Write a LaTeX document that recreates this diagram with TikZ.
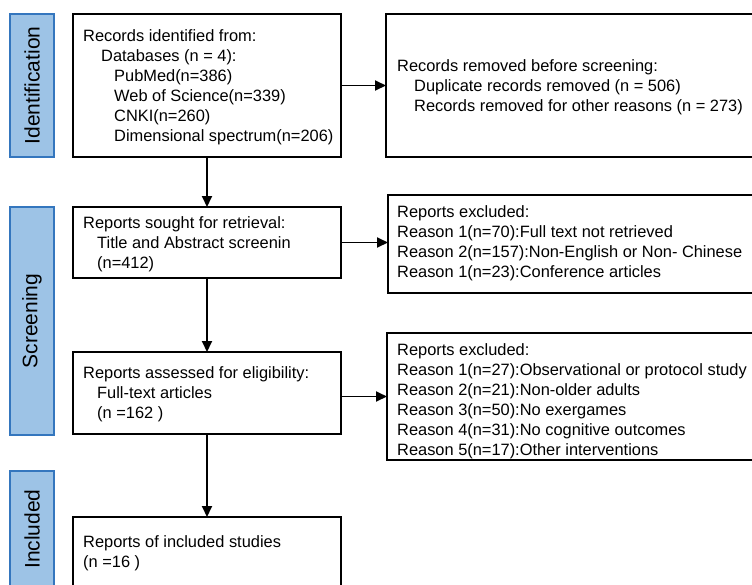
\documentclass[tikz,border=0pt]{standalone}
\usepackage{fontspec}
\setmainfont{Liberation Sans}
\usetikzlibrary{arrows.meta}
\definecolor{lblfill}{RGB}{157,195,230}
\definecolor{lbldraw}{RGB}{52,118,190}
\tikzset{
  box/.style={draw=black, line width=1.9pt, fill=white, inner sep=0pt, outer sep=0pt},
  lbl/.style={draw=lbldraw, line width=2.4pt, fill=lblfill, inner sep=0pt, outer sep=0pt},
  lbltext/.style={rotate=90, font=\fontsize{21}{24}\selectfont, inner sep=0pt},
  txt/.style={anchor=base west, inner sep=0pt, font=\fontsize{16.4}{20}\selectfont},
  arr/.style={line width=1.9pt, -{Triangle[length=11pt,width=10pt]}}
}
\begin{document}
\begin{tikzpicture}[x=1pt,y=-1pt]
\useasboundingbox (0,0) rectangle (752,584);
\clip (0,0) rectangle (752,584);
\fill[white] (0,0) rectangle (752,584);

% stage labels
\node[lbl, minimum width=44pt, minimum height=143pt] (L1) at (32,85.5) {};
\node[lbltext] (L1t) at (L1.center) {Identification};
\node[lbl, minimum width=44pt, minimum height=228pt] (L2) at (32,321) {};
\node[lbltext] (L2t) at (L2.center) {Screening};
\node[lbl, minimum width=44pt, minimum height=119pt] (L3) at (32,530.5) {};
\node[lbltext] (L3t) at (32,529) {Included};

% main column
\node[box, minimum width=268pt, minimum height=143pt] (b1) at (207,85.5) {};
\node[box, minimum width=268pt, minimum height=71pt] (b2) at (207,242.5) {};
\node[box, minimum width=268pt, minimum height=82pt] (b3) at (207,393) {};
\node[box, minimum width=268pt, minimum height=73pt] (b4) at (207,553.5) {};

% right column
\node[box, minimum width=374pt, minimum height=143pt] (r1) at (573,85.5) {};
\node[box, minimum width=372pt, minimum height=98pt] (r2) at (574,244) {};
\node[box, minimum width=373pt, minimum height=127pt] (r3) at (573.5,396.5) {};

% connectors
\draw[arr] (b1) -- (b2);
\draw[arr] (b2) -- (b3);
\draw[arr] (b3) -- (b4);
\draw[arr] (b1.east) -- (b1.east -| r1.west);
\draw[arr] (b2.east) -- (b2.east -| r2.west);
\draw[arr] (r3.west -| b3.east) -- (r3.west);

% texts box 1
\node[txt] (t11) at (83,41) {Records identified from:};
\node[txt] (t12) at (101,61) {Databases (n = 4):};
\node[txt] (t13) at (114,81.3) {PubMed(n=386)};
\node[txt] (t14) at (114,101.5) {Web of Science(n=339)};
\node[txt] (t15) at (114,121.6) {CNKI(n=260)};
\node[txt] (t16) at (114,141.7) {Dimensional spectrum(n=206)};

% texts right 1
\node[txt] (s11) at (397,71.7) {Records removed before screening:};
\node[txt] (s12) at (414,91.7) {Duplicate records removed (n = 506)};
\node[txt] (s13) at (414,111.7) {Records removed for other reasons (n = 273)};

% texts box 2
\node[txt] (t21) at (83,228) {Reports sought for retrieval:};
\node[txt] (t22) at (97,248) {Title and Abstract screenin};
\node[txt] (t23) at (97,268) {(n=412)};

% texts right 2
\node[txt] (s21) at (397,217) {Reports excluded:};
\node[txt] (s22) at (397,237) {Reason 1(n=70):Full text not retrieved};
\node[txt] (s23) at (397,257) {Reason 2(n=157):Non-English or Non- Chinese};
\node[txt] (s24) at (397,277) {Reason 1(n=23):Conference articles};

% texts box 3
\node[txt] (t31) at (83,378) {Reports assessed for eligibility:};
\node[txt] (t32) at (97,398) {Full-text articles};
\node[txt] (t33) at (97,418) {(n =162 )};

% texts right 3
\node[txt] (s31) at (397,355) {Reports excluded:};
\node[txt] (s32) at (397,375) {Reason 1(n=27):Observational or protocol study};
\node[txt] (s33) at (397,395) {Reason 2(n=21):Non-older adults};
\node[txt] (s34) at (397,415) {Reason 3(n=50):No exergames};
\node[txt] (s35) at (397,435) {Reason 4(n=31):No cognitive outcomes};
\node[txt] (s36) at (397,455) {Reason 5(n=17):Other interventions};

% texts box 4
\node[txt] (t41) at (83,547) {Reports of included studies};
\node[txt] (t42) at (83,567) {(n =16 )};
\end{tikzpicture}
\end{document}
